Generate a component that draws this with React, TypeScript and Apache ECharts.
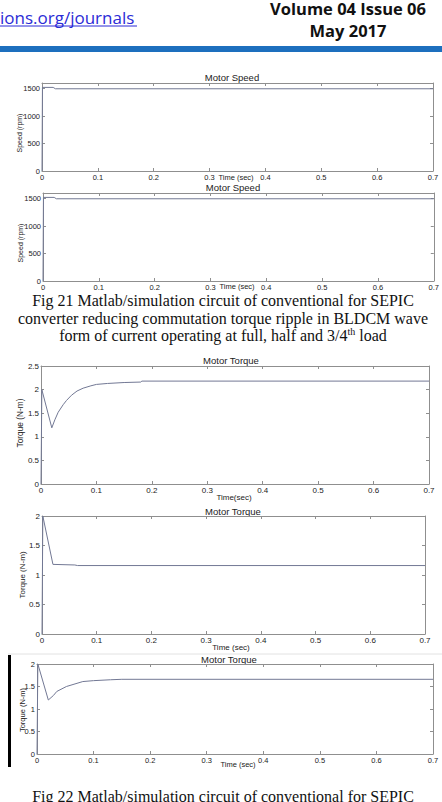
import React, { useEffect, useRef } from "react";
import * as echarts from "echarts";

// ---- data ----
const timeTicks = [0, 0.1, 0.2, 0.3, 0.4, 0.5, 0.6, 0.7];

const speed1Time = [0, 0.0008, 0.02, 0.024, 0.7];
const speed1Rpm = [0, 1520, 1520, 1495, 1495];

const speed2Time = [0, 0.0008, 0.02, 0.024, 0.7];
const speed2Rpm = [0, 1520, 1520, 1495, 1495];

const torqueFullTime = [0, 0.0015, 0.0195, 0.025, 0.031, 0.04, 0.046, 0.055, 0.065, 0.076, 0.09, 0.1, 0.12, 0.15, 0.18, 0.182, 0.7];
const torqueFullNm = [0, 2.0, 1.19, 1.36, 1.52, 1.68, 1.77, 1.88, 1.97, 2.03, 2.08, 2.11, 2.13, 2.15, 2.16, 2.18, 2.18];

const torqueHalfTime = [0, 0.0015, 0.02, 0.06, 0.065, 0.7];
const torqueHalfNm = [0, 2.0, 1.18, 1.17, 1.16, 1.16];

const torque34Time = [0, 0.0015, 0.02, 0.029, 0.035, 0.052, 0.081, 0.1, 0.13, 0.15, 0.7];
const torque34Nm = [0, 2.0, 1.2, 1.3, 1.39, 1.5, 1.61, 1.63, 1.65, 1.66, 1.66];

const speedTickLabels = [0, 500, 1000, 1500];
const torqueTickLabels = [0, 0.5, 1, 1.5, 2, 2.5];

const LINE = "#727894";
const AXIS = "#8f8f8f";
const TXT = "#222";
const SANS = "Liberation Sans, Arial, sans-serif";
const SERIF = "Liberation Serif, Times New Roman, serif";

type Panel = {
  grid: { left: number; top: number; width: number; height: number };
  ymax: number;
  yint: number;
  yLabels: number[];
  t: number[];
  v: number[];
  fs: number;
};

const panels: Panel[] = [
  { grid: { left: 42, top: 83, width: 391, height: 88 }, ymax: 1600, yint: 500, yLabels: speedTickLabels, t: speed1Time, v: speed1Rpm, fs: 7.5 },
  { grid: { left: 43, top: 193, width: 391, height: 88 }, ymax: 1600, yint: 500, yLabels: speedTickLabels, t: speed2Time, v: speed2Rpm, fs: 7.5 },
  { grid: { left: 41, top: 366, width: 388, height: 118 }, ymax: 2.5, yint: 0.5, yLabels: torqueTickLabels, t: torqueFullTime, v: torqueFullNm, fs: 8 },
  { grid: { left: 42, top: 516, width: 383, height: 118 }, ymax: 2, yint: 0.5, yLabels: torqueTickLabels, t: torqueHalfTime, v: torqueHalfNm, fs: 8 },
  { grid: { left: 37, top: 664, width: 396, height: 90 }, ymax: 2, yint: 0.5, yLabels: torqueTickLabels, t: torque34Time, v: torque34Nm, fs: 7.5 },
];

const panelTexts = [
  { title: "Motor Speed", tx: 232, ty: 77, ylab: "Speed (rpm)", yx: 19, yy: 133, ylfs: 7, xlab: "Time (sec)", xx: 236, xy: 177 },
  { title: "Motor Speed", tx: 233, ty: 187.5, ylab: "Speed (rpm)", yx: 20, yy: 243, ylfs: 7, xlab: "Time (sec)", xx: 237, xy: 286.5 },
  { title: "Motor Torque", tx: 231, ty: 360, ylab: "Torque (N-m)", yx: 20, yy: 423, ylfs: 8.3, xlab: "Time(sec)", xx: 234, xy: 497 },
  { title: "Motor Torque", tx: 233, ty: 511, ylab: "Torque (N-m)", yx: 22, yy: 575, ylfs: 8, xlab: "Time (sec)", xx: 231, xy: 647 },
  { title: "Motor Torque", tx: 229, ty: 659, ylab: "Torque (N-m)", yx: 22, yy: 710, ylfs: 7.5, xlab: "Time (sec)", xx: 238, xy: 764 },
];

const fmtNum = (v: number) => {
  const r = Math.round(v * 100) / 100;
  return r === 0 ? "0" : String(r);
};

export default function App() {
  const ref = useRef<HTMLDivElement>(null);
  useEffect(() => {
    if (!ref.current) return;
    const chart = echarts.init(ref.current, undefined, { renderer: "svg" });
    const grid: any[] = [];
    const xAxis: any[] = [];
    const yAxis: any[] = [];
    const series: any[] = [];
    panels.forEach((p, i) => {
      grid.push({ ...p.grid, show: false });
      const xBase = {
        type: "value",
        gridIndex: i,
        min: 0,
        max: 0.7,
        interval: 0.1,
        splitLine: { show: false },
        axisLine: { show: true, onZero: false, lineStyle: { color: AXIS, width: 1 } },
        axisTick: { show: true, inside: true, length: 3, lineStyle: { color: AXIS } },
      };
      xAxis.push({
        ...xBase,
        position: "bottom",
        axisLabel: {
          show: true,
          margin: 2,
          fontSize: p.fs,
          color: TXT,
          fontFamily: SANS,
          formatter: (v: number) => (timeTicks.some((t) => Math.abs(t - v) < 1e-6) ? fmtNum(v) : ""),
        },
      });
      xAxis.push({ ...xBase, position: "top", axisLabel: { show: false } });
      const yBase = {
        type: "value",
        gridIndex: i,
        min: 0,
        max: p.ymax,
        interval: p.yint,
        splitLine: { show: false },
        axisLine: { show: true, onZero: false, lineStyle: { color: AXIS, width: 1 } },
        axisTick: { show: true, inside: true, length: 3, lineStyle: { color: AXIS } },
      };
      yAxis.push({
        ...yBase,
        position: "left",
        axisLabel: {
          show: true,
          margin: 2,
          fontSize: p.fs,
          color: TXT,
          fontFamily: SANS,
          formatter: (v: number) => (p.yLabels.some((t) => Math.abs(t - v) < 1e-6) ? fmtNum(v) : ""),
        },
      });
      yAxis.push({ ...yBase, position: "right", axisLabel: { show: false } });
      series.push({
        type: "line",
        xAxisIndex: i * 2,
        yAxisIndex: i * 2,
        data: p.t.map((t, k) => [t, p.v[k]]),
        showSymbol: false,
        symbol: "none",
        lineStyle: { color: LINE, width: 1 },
        silent: true,
      });
    });

    const graphic: any[] = [];
    // header
    graphic.push({
      type: "text", x: 0, y: 17,
      style: { text: "ions.org/journals", fill: "#2b2bd6", font: "17px 'Open Sans', sans-serif", textAlign: "left", textVerticalAlign: "middle" },
    });
    graphic.push({ type: "line", shape: { x1: 0, y1: 26, x2: 137, y2: 26 }, style: { stroke: "#2b2bd6", lineWidth: 1 } });
    graphic.push({
      type: "text", x: 348, y: 8,
      style: { text: "Volume 04 Issue 06", fill: "#111", font: "bold 16.5px 'Open Sans', sans-serif", textAlign: "center", textVerticalAlign: "middle" },
    });
    graphic.push({
      type: "text", x: 348, y: 30,
      style: { text: "May 2017", fill: "#111", font: "bold 16.5px 'Open Sans', sans-serif", textAlign: "center", textVerticalAlign: "middle" },
    });
    graphic.push({ type: "rect", shape: { x: 0, y: 46, width: 442, height: 6 }, style: { fill: "#1d6fbe" } });

    // panel texts
    panelTexts.forEach((pt, i) => {
      graphic.push({
        type: "text", x: pt.tx, y: pt.ty,
        style: { text: pt.title, fill: TXT, font: `9.5px ${SANS}`, textAlign: "center", textVerticalAlign: "middle" },
      });
      graphic.push({
        type: "text", x: pt.yx, y: pt.yy, rotation: Math.PI / 2,
        style: { text: pt.ylab, fill: TXT, font: `${pt.ylfs}px ${SANS}`, textAlign: "center", textVerticalAlign: "middle" },
      });
      graphic.push({
        type: "text", x: pt.xx, y: pt.xy,
        style: { text: pt.xlab, fill: TXT, font: `${panels[i].fs}px ${SANS}`, textAlign: "center", textVerticalAlign: "middle" },
      });
    });

    // frame of last image
    graphic.push({ type: "line", shape: { x1: 8, y1: 654, x2: 442, y2: 654 }, style: { stroke: "#e2e2e2", lineWidth: 1 } });
    graphic.push({ type: "rect", shape: { x: 8, y: 655, width: 3, height: 112 }, style: { fill: "#000" } });

    // captions
    const cap = (text: string, y: number) =>
      graphic.push({
        type: "text", x: 223, y,
        style: { text, fill: "#111", font: `16px ${SERIF}`, textAlign: "center", textVerticalAlign: "middle" },
      });
    cap("Fig 21 Matlab/simulation circuit of conventional for SEPIC", 300);
    cap("converter reducing commutation torque ripple in BLDCM wave", 318);
    graphic.push({
      type: "text", x: 223, y: 335,
      style: {
        text: "form of current operating at full, half and 3/4{sup|th} load",
        fill: "#111",
        font: `16px ${SERIF}`,
        fontFamily: SERIF,
        fontSize: 16,
        lineHeight: 18,
        textAlign: "center",
        textVerticalAlign: "middle",
        rich: { sup: { fontSize: 10, fontFamily: SERIF, fill: "#111", verticalAlign: "top", lineHeight: 18 } },
      },
    });
    cap("Fig 22 Matlab/simulation circuit of conventional for SEPIC", 796);

    chart.setOption({
      animation: false,
      backgroundColor: "#fff",
      grid,
      xAxis,
      yAxis,
      series,
      graphic: { elements: graphic },
    });
    return () => chart.dispose();
  }, []);
  return (
    <div
      ref={ref}
      style={{ position: "fixed", left: 0, top: 0, width: 442, height: 802, background: "#fff" }}
    />
  );
}
